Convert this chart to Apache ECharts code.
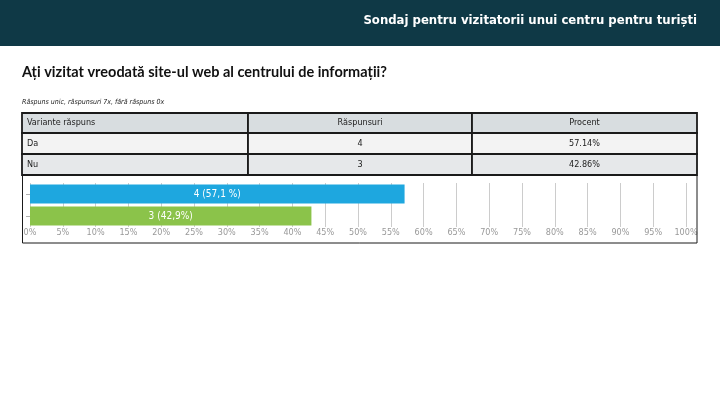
<!DOCTYPE html>
<html>
<head>
<meta charset="utf-8">
<script src="https://cdn.jsdelivr.net/npm/echarts@6/dist/echarts.min.js"></script>
<style>
html,body{margin:0;padding:0;background:#fff;}
#c{width:720px;height:405px;}
</style>
</head>
<body>
<div id="c"></div>
<script>
var headerTitle = 'Sondaj pentru vizitatorii unui centru pentru turiști';
var questionTitle = 'Ați vizitat vreodată site-ul web al centrului de informații?';
var subtitle = 'Răspuns unic, răspunsuri 7x, fără răspuns 0x';
var tableHeaders = ['Variante răspuns', 'Răspunsuri', 'Procent'];
var categories = ['Da', 'Nu'];
var counts = [4, 3];
var percentText = ['57.14%', '42.86%'];
var barValues = [57.1, 42.9];
var barLabels = ['4 (57,1 %)', '3 (42,9%)'];
var barColors = ['#1ea7df', '#8bc34a'];

var chart = echarts.init(document.getElementById('c'), null, {renderer: 'canvas'});

var F = '"DejaVu Sans Condensed", "DejaVu Sans", sans-serif';
var graphics = [];
// header bar
graphics.push({type: 'rect', shape: {x: 0, y: 0, width: 720, height: 46}, style: {fill: '#0f3946'}, z: 1});
graphics.push({type: 'text', x: 697, y: 21, style: {text: headerTitle, fill: '#ffffff', font: 'bold 13px ' + F, textAlign: 'right', textVerticalAlign: 'middle'}, z: 2});
graphics.push({type: 'text', x: 22, y: 72, style: {text: questionTitle, fill: '#111', font: 'bold 14.5px Lato, "Open Sans", sans-serif', textAlign: 'left', textVerticalAlign: 'middle'}, z: 2});
graphics.push({type: 'text', x: 22, y: 102, style: {text: subtitle, fill: '#222', font: 'italic 7px ' + F, textAlign: 'left', textVerticalAlign: 'middle'}, z: 2});

// table
var colX = [22, 248, 472, 697];
var rowY = [113, 133, 154, 175];
var rowFill = ['#d8dde0', '#f3f3f3', '#e6e8ea'];
var rows = [tableHeaders];
for (var i = 0; i < categories.length; i++) rows.push([categories[i], String(counts[i]), percentText[i]]);
for (var r = 0; r < rows.length; r++) {
  for (var c = 0; c < 3; c++) {
    graphics.push({type: 'rect', shape: {x: colX[c], y: rowY[r], width: colX[c+1]-colX[c], height: rowY[r+1]-rowY[r]},
      style: {fill: rowFill[r], stroke: '#1a1a1a', lineWidth: 1.8}, z: 2});
    var tx = c === 0 ? colX[c] + 5 : (colX[c] + colX[c+1]) / 2;
    graphics.push({type: 'text', x: tx, y: (rowY[r] + rowY[r+1]) / 2, style: {text: rows[r][c], fill: '#222', font: '9px ' + F,
      textAlign: c === 0 ? 'left' : 'center', textVerticalAlign: 'middle'}, z: 3});
  }
}
// chart box
graphics.push({type: 'rect', shape: {x: 22.5, y: 175, width: 674.5, height: 68}, style: {fill: 'none', stroke: '#1a1a1a', lineWidth: 1}, z: 1});

var option = {
  animation: false,
  backgroundColor: '#ffffff',
  graphic: graphics,
  grid: {left: 30, right: 34, top: 183, height: 44, containLabel: false},
  xAxis: {
    type: 'value', min: 0, max: 100, interval: 5,
    axisLine: {show: false}, axisTick: {show: false},
    splitLine: {show: true, lineStyle: {color: '#cccccc', width: 1}},
    axisLabel: {formatter: '{value}%', color: '#999999', fontSize: 9, fontFamily: F, margin: 1}
  },
  yAxis: {
    type: 'category', data: categories, inverse: true,
    axisLine: {show: false},
    axisTick: {show: true, alignWithLabel: true, length: 4, lineStyle: {color: '#b0b0b0'}},
    axisLabel: {show: false}
  },
  series: [{
    type: 'bar', barWidth: 19,
    data: barValues.map(function (v, i) {
      return {value: v, itemStyle: {color: barColors[i]},
        label: {show: true, position: 'inside', formatter: barLabels[i], color: '#ffffff', fontSize: 10, fontFamily: F}};
    })
  }]
};
chart.setOption(option);
</script>
</body>
</html>
